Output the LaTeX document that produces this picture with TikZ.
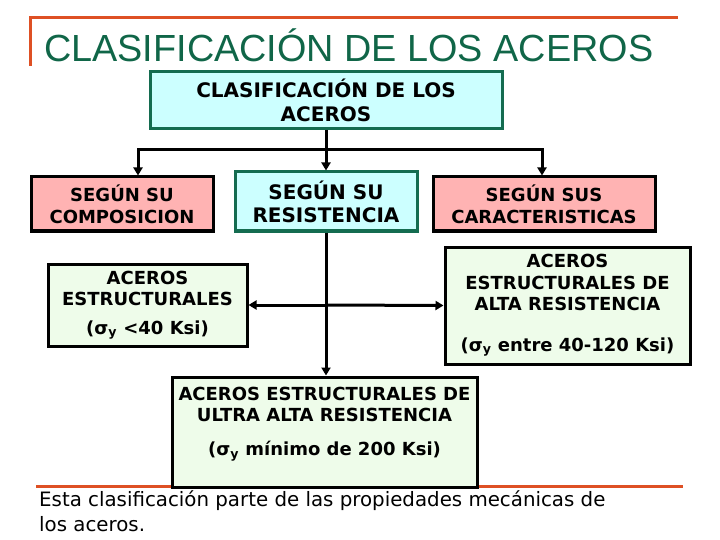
\documentclass[tikz,border=0pt]{standalone}
\usepackage{fontspec}
\setmainfont{DejaVu Sans}
\newfontfamily\titlefont{Liberation Sans}
\usetikzlibrary{arrows.meta}
\definecolor{titlegreen}{RGB}{16,102,72}
\definecolor{boxgreen}{RGB}{20,108,80}
\definecolor{orangeline}{RGB}{222,80,36}
\definecolor{cyanfill}{RGB}{204,255,255}
\definecolor{pinkfill}{RGB}{255,179,179}
\definecolor{greenfill}{RGB}{238,252,234}
\begin{document}
\begin{tikzpicture}[x=1pt,y=-1pt,
  box/.style={draw, line width=3pt, inner sep=0pt, align=center},
  cyanbox/.style={box, draw=boxgreen, fill=cyanfill},
  pinkbox/.style={box, draw=black, fill=pinkfill},
  greenbox/.style={box, draw=black, fill=greenfill},
  bigtxt/.style={font=\bfseries\fontsize{20}{24}\selectfont},
  smalltxt/.style={font=\bfseries\fontsize{18}{22}\selectfont},
  conn/.style={line width=3pt, black},
  arr/.style={conn, -{Triangle[length=8pt,width=9pt]}},
  rule/.style={line width=3pt, orangeline},
  plain/.style={inner sep=0pt, font=\fontsize{19.8}{25}\selectfont}]
\useasboundingbox (0,0) rectangle (720,540);
% title and rules
\draw[rule] (30,66) -- (30,18) -- (678,18);
\node[anchor=base west, inner sep=0pt, text=titlegreen,
  font=\titlefont\fontsize{37.8}{40}\selectfont] (title) at (44,62) {CLASIFICACIÓN DE LOS ACEROS};
\draw[rule] (36,486) -- (683,486);
% boxes
\node[cyanbox, bigtxt, minimum width=352pt, minimum height=57pt] (top) at (326,100) {CLASIFICACIÓN DE LOS\\ACEROS};
\node[pinkbox, smalltxt, minimum width=182pt, minimum height=54pt] (comp) at (122,204) {SEGÚN SU\\COMPOSICION};
\node[cyanbox, bigtxt, font=\bfseries\fontsize{20}{23}\selectfont, minimum width=182pt, minimum height=59pt] (res) at (326,201.5) {SEGÚN SU\\RESISTENCIA};
\node[pinkbox, smalltxt, minimum width=222pt, minimum height=54pt] (car) at (544,204) {SEGÚN SUS\\CARACTERISTICAS};
\node[greenbox, font=\bfseries\fontsize{18}{21}\selectfont, minimum width=199pt, minimum height=82pt] (estr) at (147.5,305) {ACEROS\\ESTRUCTURALES\\[8pt](σ\textsubscript{y} <40 Ksi)};
\node[greenbox, font=\bfseries\fontsize{18}{21.5}\selectfont, minimum width=245pt, minimum height=117pt] (alta) at (567.5,305.5) {ACEROS\\ESTRUCTURALES DE\\ALTA RESISTENCIA\\[19pt](σ\textsubscript{y} entre 40-120 Ksi)};
\node[greenbox, minimum width=305pt, minimum height=110pt] (ultra) at (324.5,432) {};
\node[anchor=north, inner sep=0pt, align=center, font=\bfseries\fontsize{18}{21}\selectfont] (ultratext) at (324.5,387) {ACEROS ESTRUCTURALES DE\\ULTRA ALTA RESISTENCIA\\[13pt](σ\textsubscript{y} mínimo de 200 Ksi)};
% connectors
\coordinate (bar) at (326,150);
\coordinate (barL) at (138,150);
\coordinate (barR) at (542,150);
\coordinate (mid) at (326,305);
\draw[conn] (top.south) -- (bar);
\draw[arr] (bar) -| (comp.north -| barL);
\draw[arr] (bar) -| (car.north -| barR);
\draw[arr] (bar) -- (res.north);
\draw[arr] (res.south) -- (ultra.north -| res.south);
\draw[arr] (mid) -- (estr.east);
\draw[arr] (mid) -- (alta.west);
% note
\node[plain, anchor=base west] (note1) at (39,506.7) {Esta clasificación parte de las propiedades mecánicas de};
\node[plain, anchor=base west] (note2) at (39,531.7) {los aceros.};
\end{tikzpicture}
\end{document}
